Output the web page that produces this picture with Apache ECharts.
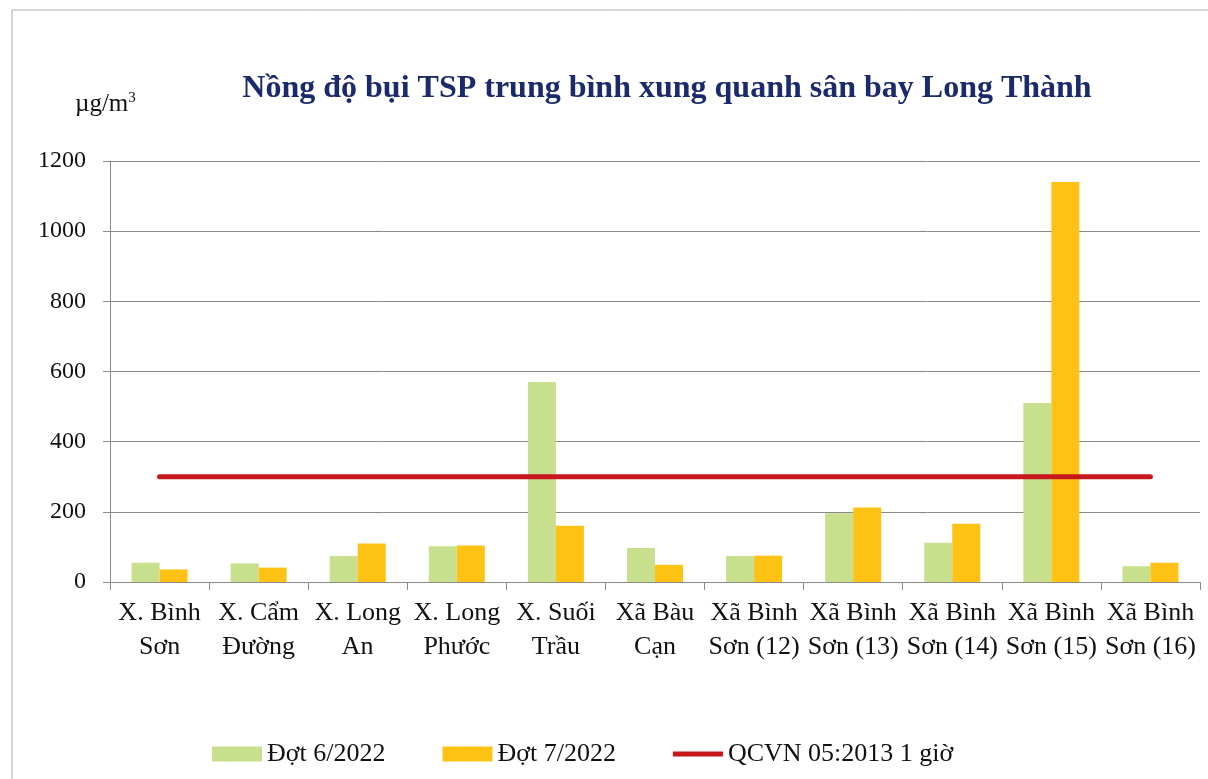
<!DOCTYPE html>
<html>
<head>
<meta charset="utf-8">
<script src="https://cdn.jsdelivr.net/npm/echarts@6/dist/echarts.min.js"></script>
<style>
  html, body { margin: 0; padding: 0; background: #fff; }
  #chart { width: 1208px; height: 779px; }
</style>
</head>
<body>
<div id="chart"></div>
<script>
// danh mục các điểm quan trắc
const categories = [
  'X. Bình\nSơn', 'X. Cẩm\nĐường', 'X. Long\nAn', 'X. Long\nPhước', 'X. Suối\nTrầu',
  'Xã Bàu\nCạn', 'Xã Bình\nSơn (12)', 'Xã Bình\nSơn (13)', 'Xã Bình\nSơn (14)',
  'Xã Bình\nSơn (15)', 'Xã Bình\nSơn (16)'
]
// giá trị (µg/m3)
const dot6 = [55, 53, 74, 102, 570, 97, 74, 196, 112, 510, 45]
const dot7 = [36, 41, 110, 104, 160, 49, 75, 212, 166, 1140, 55]
const qcvn = [300, 300, 300, 300, 300, 300, 300, 300, 300, 300, 300]
const yTicks = [0, 200, 400, 600, 800, 1000, 1200]

const serif = '"Liberation Serif", "DejaVu Serif", serif'
const chart = echarts.init(document.getElementById('chart'))

const option = {
  animation: false,
  title: [
    {
      text: 'Nồng độ bụi TSP trung bình xung quanh sân bay Long Thành',
      left: 662,
      textAlign: 'center',
      top: 68,
      textStyle: { fontFamily: serif, fontSize: 32, fontWeight: 'bold', color: '#1b2a6b' }
    },
    {
      text: '{a|µg/m}{s|3}',
      left: 70,
      top: 86,
      textStyle: {
        fontWeight: 'normal',
        rich: {
          a: { fontFamily: serif, fontSize: 25, fontWeight: 'normal', color: '#111' },
          s: { fontFamily: serif, fontSize: 15, fontWeight: 'normal', color: '#111', verticalAlign: 'top', padding: [0, 0, 12, 0] }
        }
      }
    }
  ],
  graphic: [
    {
      type: 'rect',
      shape: { x: 12, y: 10, width: 1260, height: 820 },
      style: { fill: 'none', stroke: '#aaa', lineWidth: 1 },
      silent: true
    }
  ],
  legend: {
    left: 207,
    top: 736,
    itemWidth: 50,
    itemHeight: 15,
    itemGap: 57,
    symbolKeepAspect: true,
    textStyle: { fontFamily: serif, fontSize: 26, color: '#111' },
    data: [
      { name: 'Đợt 6/2022', icon: 'rect' },
      { name: 'Đợt 7/2022', icon: 'rect' },
      { name: 'QCVN 05:2013 1 giờ', icon: 'path://M0,0 L50,0 L50,5 L0,5 Z' }
    ]
  },
  grid: { left: 110, right: 8, top: 161, bottom: 197 },
  xAxis: {
    type: 'category',
    data: categories,
    axisLine: { lineStyle: { color: '#8a8a8a', width: 1 } },
    axisTick: { show: true, length: 8, lineStyle: { color: '#8a8a8a' } },
    axisLabel: {
      interval: 0,
      margin: 14,
      fontFamily: serif,
      fontSize: 26,
      lineHeight: 34,
      color: '#111'
    }
  },
  yAxis: {
    type: 'value',
    min: yTicks[0],
    max: yTicks[yTicks.length - 1],
    interval: 200,
    axisLine: { show: true, lineStyle: { color: '#8a8a8a' } },
    axisTick: { show: true, length: 7, lineStyle: { color: '#8a8a8a' } },
    axisLabel: { margin: 24, fontFamily: serif, fontSize: 24, color: '#111', formatter: v => String(v) },
    splitLine: { lineStyle: { color: '#888', width: 1 } }
  },
  series: [
    {
      name: 'Đợt 6/2022',
      type: 'bar',
      data: dot6,
      barWidth: 28,
      barGap: '0%',
      itemStyle: { color: '#c8df8e' }
    },
    {
      name: 'Đợt 7/2022',
      type: 'bar',
      data: dot7,
      barWidth: 28,
      itemStyle: { color: '#fdc214' }
    },
    {
      name: 'QCVN 05:2013 1 giờ',
      type: 'line',
      data: qcvn,
      symbol: 'none',
      lineStyle: { color: '#c8161d', width: 5, cap: 'round' },
      itemStyle: { color: '#c8161d' },
      z: 5
    }
  ]
}

chart.setOption(option)
</script>
</body>
</html>
